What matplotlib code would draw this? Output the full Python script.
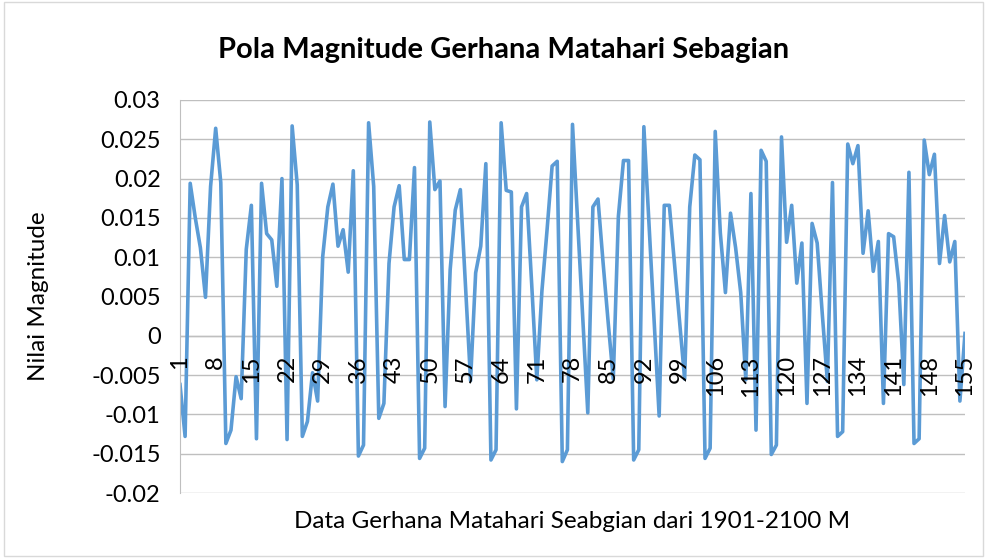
import matplotlib
matplotlib.use("Agg")
import matplotlib.pyplot as plt
from matplotlib.patches import Rectangle
from matplotlib.ticker import FuncFormatter

plt.rcParams['font.family'] = ['Lato', 'DejaVu Sans']

# nilai magnitude per data (1..155)
magnitude = [
    -0.0062, -0.0128, 0.0194, 0.0150, 0.0112, 0.0049, 0.0190, 0.0264, 0.0195, -0.0137,
    -0.0120, -0.0052, -0.0080, 0.0110, 0.0166, -0.0131, 0.0194, 0.0130, 0.0122, 0.0063,
    0.0200, -0.0132, 0.0267, 0.0192, -0.0128, -0.0109, -0.0047, -0.0083, 0.0101, 0.0164,
    0.0193, 0.0114, 0.0135, 0.0081, 0.0210, -0.0153, -0.0139, 0.0271, 0.0190, -0.0105,
    -0.0086, 0.0092, 0.0164, 0.0191, 0.0097, 0.0097, 0.0214, -0.0156, -0.0143, 0.0272,
    0.0186, 0.0197, -0.0090, 0.0084, 0.0160, 0.0186, 0.0065, -0.0057, 0.0080, 0.0114,
    0.0219, -0.0158, -0.0145, 0.0271, 0.0185, 0.0183, -0.0093, 0.0164, 0.0181, 0.0065,
    -0.0056, 0.0057, 0.0134, 0.0216, 0.0222, -0.0160, -0.0145, 0.0269, 0.0147, 0.0025,
    -0.0098, 0.0164, 0.0174, 0.0093, 0.0017, -0.0055, 0.0152, 0.0223, 0.0223, -0.0158,
    -0.0145, 0.0266, 0.0143, 0.0021, -0.0102, 0.0166, 0.0166, 0.0092, 0.0018, -0.0055,
    0.0164, 0.0230, 0.0224, -0.0156, -0.0143, 0.0260, 0.0131, 0.0055, 0.0156, 0.0112,
    0.0055, -0.0056, 0.0181, -0.0120, 0.0236, 0.0222, -0.0151, -0.0139, 0.0253, 0.0119,
    0.0166, 0.0067, 0.0118, -0.0086, 0.0143, 0.0118, 0.0028, -0.0058, 0.0195, -0.0128,
    -0.0122, 0.0244, 0.0219, 0.0242, 0.0105, 0.0159, 0.0082, 0.0120, -0.0086, 0.0130,
    0.0126, 0.0067, -0.0062, 0.0208, -0.0137, -0.0131, 0.0249, 0.0205, 0.0231, 0.0092,
    0.0153, 0.0094, 0.0120, -0.0083, 0.0003,
]
nomor = list(range(1, len(magnitude) + 1))
label_x = list(range(1, 156, 7))
ticks_y = [-0.02, -0.015, -0.01, -0.005, 0, 0.005, 0.01, 0.015, 0.02, 0.025, 0.03]

fig = plt.figure(figsize=(9.87, 5.58), dpi=100)
# bingkai chart
fig.patches.append(Rectangle((0.004, 0.004), 0.992, 0.992, transform=fig.transFigure,
                             fill=False, edgecolor='#D9D9D9', linewidth=1))

ax = fig.add_axes([180 / 987, 1 - 493 / 558, 785 / 987, 393 / 558])
ax.plot(nomor, magnitude, color='#5B9BD5', linewidth=2.6, solid_joinstyle='round')

ax.set_xlim(1, 155)
ax.set_ylim(-0.02, 0.03)
ax.set_yticks(ticks_y)
ax.yaxis.set_major_formatter(FuncFormatter(lambda v, p: ('%g' % v).replace('−', '-')))
ax.grid(axis='y', color='#BFBFBF', linewidth=1)
ax.set_axisbelow(True)
ax.tick_params(axis='y', length=0, labelsize=17, pad=14)
ax.set_xticks([])
for s in ['top', 'right', 'bottom']:
    ax.spines[s].set_visible(False)
ax.spines['left'].set_color('#BFBFBF')

# garis sumbu x di nilai 0
ax.axhline(0, color='#BFBFBF', linewidth=1, zorder=1)
for n in label_x:
    ax.annotate(str(n), (n, 0), xytext=(0, -14), textcoords='offset points',
                rotation=90, ha='center', va='top', fontsize=17, zorder=5)

ax.set_ylabel('Nilai Magnitude', fontsize=17.5, labelpad=30)
ax.set_xlabel('Data Gerhana Matahari Seabgian dari 1901-2100 M', fontsize=17.5, labelpad=13)
fig.text(0.51, 1 - 50 / 558, 'Pola Magnitude Gerhana Matahari Sebagian', ha='center', va='center',
         fontsize=21, fontweight='bold')

fig.savefig('out.png', dpi=100)
